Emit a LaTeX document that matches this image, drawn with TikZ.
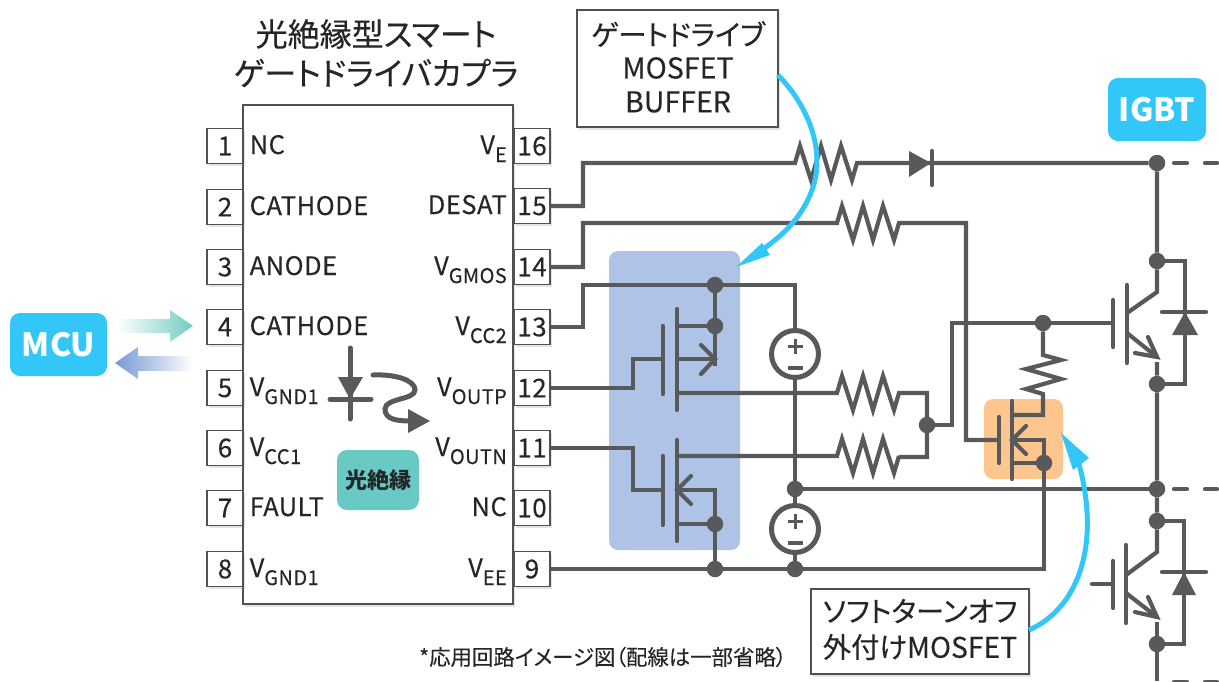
\documentclass[tikz,border=0pt]{standalone}
\usepackage{fontspec}
\setmainfont{Noto Sans CJK JP}[LetterSpace=2,FakeBold=0.25]
\newfontfamily\titlefont{Noto Sans CJK JP}[RawFeature=+palt,FakeBold=0.25]
\newfontfamily\badgefont{Noto Sans CJK JP}
\usetikzlibrary{shadows,calc}
\definecolor{wirec}{HTML}{58595B}
\definecolor{cyanc}{HTML}{33C7F7}
\definecolor{inkc}{HTML}{262626}
\definecolor{bluebg}{HTML}{AFC3E6}
\definecolor{orangebg}{HTML}{FDC68E}
\definecolor{tealc}{HTML}{69C9C4}
\definecolor{arrowteal}{HTML}{73CCC5}
\definecolor{arrowblue}{HTML}{7699D1}
\newcommand{\fsz}[1]{\fontsize{#1pt}{#1pt}\selectfont}
\newcommand{\sbs}[1]{\raisebox{-8pt}{\fsz{20}#1}}
\newcommand{\zzh}{-- ++(5,-17) -- ++(11,34) -- ++(10,-34) -- ++(10,34) -- ++(10,-34) -- ++(11,34) -- ++(5,-17)}
\tikzset{
  x=1pt,y=-1pt,
  wire/.style={draw=wirec,line width=4.2pt,line join=miter},
  bar/.style={draw=wirec,line width=4.2pt,line cap=round},
  tip/.style={fill=wirec,draw=none},
  dot/.style={circle,fill=wirec,draw=none,minimum size=16.5pt,inner sep=0pt},
  dashw/.style={draw=wirec,line width=4.2pt,line cap=round},
  pinbox/.style={draw=inkc!80,line width=1.2pt,fill=white,minimum width=36pt,minimum height=35pt,inner sep=0pt,font=\fsz{26},text=inkc,drop shadow={shadow xshift=1.5pt,shadow yshift=-2.5pt,opacity=.22}},
  llab/.style={anchor=base west,inner sep=0pt,font=\fsz{25.5},text=inkc},
  rlab/.style={anchor=base east,inner sep=0pt,font=\fsz{25.5},text=inkc},
  callout/.style={draw=inkc!80,line width=1.2pt,fill=white,inner sep=0pt,drop shadow={shadow xshift=1.5pt,shadow yshift=-2.5pt,opacity=.22}},
  badge/.style={fill=cyanc,rounded corners=10pt,inner sep=0pt,text=white,font=\badgefont\bfseries\fsz{32}},
  blueline/.style={draw=cyanc,line width=5pt},
  src/.style={circle,draw=wirec,line width=5pt,fill=white,minimum size=47pt,inner sep=0pt},
}
\begin{document}
\begin{tikzpicture}
\useasboundingbox (0,0) rectangle (1219,681);
% backgrounds
\node[fill=bluebg,rounded corners=9pt,minimum width=131pt,minimum height=299pt,inner sep=0pt] (bufbg) at (674.5,400.5) {};
\node[fill=orangebg,rounded corners=9pt,minimum width=79pt,minimum height=80pt,inner sep=0pt] (offbg) at (1023.5,439) {};
% IC body
\node[draw=inkc!80,line width=1.2pt,fill=white,minimum width=270pt,minimum height=499pt,inner sep=0pt,drop shadow={shadow xshift=1.5pt,shadow yshift=-2.5pt,opacity=.22}] (ic) at (378,354.5) {};
% pins
\foreach \n/\yy in {1/146,2/207,3/267,4/327,5/388,6/448,7/508,8/569}
  \node[pinbox] (p\n) at (225,\yy) {\n};
\foreach \n/\yy in {16/146,15/206,14/267,13/327,12/388,11/448,10/508,9/569}
  \node[pinbox] (p\n) at (532,\yy) {\n};
% labels
\node[llab] (l1) at (249.5,154) {NC};
\node[llab] (l2) at (249.5,215) {CATHODE};
\node[llab] (l3) at (249.5,275) {ANODE};
\node[llab] (l4) at (249.5,335) {CATHODE};
\node[llab] (l5) at (249.5,396) {V\sbs{GND1}};
\node[llab] (l6) at (249.5,456) {V\sbs{CC1}};
\node[llab] (l7) at (249.5,516) {FAULT};
\node[llab] (l8) at (249.5,577) {V\sbs{GND1}};
\node[rlab] (l16) at (507,154) {V\sbs{E}};
\node[rlab] (l15) at (507,214) {DESAT};
\node[rlab] (l14) at (507,275) {V\sbs{GMOS}};
\node[rlab] (l13) at (507,335) {V\sbs{CC2}};
\node[rlab] (l12) at (507,396) {V\sbs{OUTP}};
\node[rlab] (l11) at (507,456) {V\sbs{OUTN}};
\node[rlab] (l10) at (507,516) {NC};
\node[rlab] (l9) at (507,577) {V\sbs{EE}};
% title
\node[font=\titlefont\fsz{32},text=inkc,inner sep=0pt] (t1) at (376,34) {光絶縁型スマート};
\node[font=\titlefont\fsz{32},text=inkc,inner sep=0pt] (t2) at (376,73) {ゲートドライバカプラ};
% opto badge
\node[fill=tealc,rounded corners=10pt,minimum width=82pt,minimum height=60pt,inner sep=0pt,font=\badgefont\bfseries\fsz{22},text=inkc] (opto) at (378,480) {光絶縁};
% MCU & IGBT
\node[badge,minimum width=97pt,minimum height=63pt] (mcu) at (58.5,344.5) {MCU};
\node[badge,minimum width=98pt,minimum height=63pt] (igbt) at (1157,109.5) {IGBT};
% gradient arrows
\shade[left color=white,middle color=arrowteal,right color=arrowteal] (117,319) -- (170,319) -- (170,310) -- (193,326) -- (170,342) -- (170,333) -- (117,333) -- cycle;
\shade[right color=white,middle color=arrowblue,left color=arrowblue] (193,356) -- (138,356) -- (138,347) -- (115,363) -- (138,379) -- (138,371) -- (193,371) -- cycle;
% opto symbol
\coordinate (ledtop) at (350,348);
\coordinate (ledbot) at (350,419);
\draw[bar,line width=5pt] (ledtop) -- (ledbot);
\fill[tip] (338,377) -- (363,377) -- (350,399) -- cycle;
\draw[bar,line width=5pt] (330,399) -- (371,399);
\draw[wirec,line width=5pt,line cap=round] (373,375) .. controls (395,374) and (415,380) .. (415,390) .. controls (415,400) and (385,398) .. (385,409) .. controls (385,420) and (398,421) .. (412,421);
\fill[tip] (408,409) -- (430,421) -- (408,433) -- cycle;
% junctions
\node[dot] (jtop) at (715,285) {};
\node[dot] (jd1) at (715,326) {};
\node[dot] (js2) at (715,524) {};
\node[dot] (jb1) at (715,569) {};
\node[dot] (jb2) at (795,569) {};
\node[dot] (jmid) at (795,489) {};
\node[dot] (jr) at (927,425) {};
\node[dot] (jg) at (1043,323) {};
\node[dot] (joff) at (1044,463) {};
\node[dot] (jrail1) at (1157,163) {};
\node[dot] (jc1) at (1157,261) {};
\node[dot] (je1) at (1157,384) {};
\node[dot] (jrail2) at (1157,489) {};
\node[dot] (jc2) at (1157,521) {};
\node[dot] (je2) at (1157,644) {};
% sources
\node[src] (v1) at (795,354) {};
\node[src] (v2) at (795,529) {};
\foreach \s in {v1,v2}{
  \draw[wirec,line width=3pt] ($(\s)+(-7.5,-8)$) -- ($(\s)+(7.5,-8)$);
  \draw[wirec,line width=3pt] ($(\s)+(0,-15.5)$) -- ($(\s)+(0,-0.5)$);
  \draw[wirec,line width=3.4pt] ($(\s)+(-7.5,14)$) -- ($(\s)+(7.5,14)$);
}
% wires
\draw[wire] (p15.east) -- (583,206) -- (583,163) -- (795,163) \zzh -- (jrail1);
\fill[tip] (909,151) -- (931,163) -- (909,177) -- cycle;
\draw[bar] (932,151) -- (932,185);
\draw[wire] (p14.east) -- (583,267) -- (583,223) -- (837,223) \zzh -- (966,223) -- (966,440) -- (999,440);
\draw[wire] (p13.east) -- (583,327) -- (583,285) -- (jtop) -- (795,285) -- (v1);
\draw[wire] (v1) -- (jmid) -- (v2);
\draw[wire] (v2) -- (jb2);
\draw[wire] (p9.east) -- (jb1) -- (jb2) -- (1044,569) -- (joff);
\draw[wire] (jmid) -- (jrail2);
\draw[wire] (p12.east) -- (633,388) -- (633,359) -- (663,359);
\draw[wire] (p11.east) -- (633,448) -- (633,490) -- (663,490);
% top FET
\draw[bar] (663,326) -- (663,394);
\draw[bar] (677,309) -- (677,410);
\draw[wire] (677,326) -- (jd1);
\draw[wire] (jtop) -- (715,366);
\draw[wire] (677,359) -- (715,359);
\draw[bar,line cap=round,line join=miter] (701,345) -- (715,359) -- (701,374);
\draw[wire] (677,393) -- (837,393) \zzh -- (927,393) -- (927,457) -- (899,457);
\draw[wire] (677,456) -- (837,456) \zzh;
% low FET
\draw[bar] (663,456) -- (663,525);
\draw[bar] (677,440) -- (677,541);
\draw[wire] (677,490) -- (715,490) -- (jb1);
\draw[wire] (677,524) -- (js2);
\draw[bar,line join=miter] (691,476) -- (677,490) -- (691,504);
% turn-off FET
\draw[bar] (999,417) -- (999,463);
\draw[bar] (1012,401) -- (1012,479);
\draw[wire] (1012,415) -- (1043,415) -- (1043,394) -- (1026,389) -- (1061,379) -- (1026,369) -- (1061,360) -- (1043,355) -- (jg);
\draw[wire] (1012,440) -- (1044,440) -- (joff);
\draw[wire] (1012,463) -- (joff);
\draw[bar,line join=miter] (1026,426) -- (1012,440) -- (1026,454);
% gate rail
\draw[wire] (jr) -- (952,425) -- (952,323) -- (jg) -- (1113,323);
% IGBT top
\draw[wire] (jrail1) -- (jc1) -- (1157,292) -- (1127,313);
\draw[bar] (1113,300) -- (1113,347);
\draw[bar] (1127,285) -- (1127,363);
\draw[wire] (1127,333) -- (1157,357);
\draw[bar,line join=miter] (1148,337) -- (1157,357) -- (1135,353);
\draw[wire] (1157,362) -- (je1) -- (jrail2) -- (jc2) -- (1157,552) -- (1126,575);
\draw[wire] (jc1) -- (1185,261) -- (1185,384) -- (je1);
\fill[tip] (1172,335) -- (1198,335) -- (1185,312) -- cycle;
\draw[bar] (1162,312) -- (1206,312);
% IGBT low
\draw[bar] (1092,584) -- (1113,584);
\draw[bar] (1113,561) -- (1113,608);
\draw[bar] (1126,545) -- (1126,623);
\draw[wire] (1126,593) -- (1157,617);
\draw[bar,line join=miter] (1148,597) -- (1157,617) -- (1135,612);
\draw[wire] (1157,622) -- (je2) -- (1157,681);
\draw[wire] (jc2) -- (1184,521) -- (1184,644) -- (je2);
\fill[tip] (1172,595) -- (1196,595) -- (1184,572) -- cycle;
\draw[bar] (1162,572) -- (1206,572);
% dashes
\foreach \yy in {163,489,682}{
  \draw[dashw] (1174,\yy) -- (1187,\yy);
  \draw[dashw] (1205,\yy) -- (1217,\yy);
}
% callouts
\node[callout,minimum width=201pt,minimum height=117pt] (cb1) at (677.5,68.5) {};
\node[font=\titlefont\fsz{28.3},text=inkc,inner sep=0pt] (c1a) at (678,34) {ゲートドライブ};
\node[font=\titlefont\fsz{28.6},text=inkc,inner sep=0pt] (c1b) at (678,68) {MOSFET};
\node[font=\titlefont\fsz{28.6},text=inkc,inner sep=0pt] (c1c) at (678,102) {BUFFER};
\node[callout,minimum width=218pt,minimum height=85pt] (cb2) at (920,631.5) {};
\node[font=\titlefont\fsz{28.3},text=inkc,inner sep=0pt] (c2a) at (920,611) {ソフトターンオフ};
\node[font=\titlefont\fsz{28.3},text=inkc,inner sep=0pt] (c2b) at (920,647) {外付けMOSFET};
% blue curves
\draw[blueline] (778,75) .. controls (812,110) and (825,155) .. (812,190) .. controls (803,215) and (785,235) .. (756,254);
\fill[cyanc] (736,267) -- (762,243) -- (770,255) -- cycle;
\draw[blueline] (1029,630) .. controls (1075,610) and (1102,550) .. (1079,464);
\fill[cyanc] (1061,433) -- (1089,458) -- (1073,470) -- cycle;
% footnote
\node[font=\titlefont\fsz{21.4},text=inkc,inner sep=0pt,anchor=west] (fn) at (419,657) {*応用回路イメージ図（配線は一部省略）};
\end{tikzpicture}
\end{document}
